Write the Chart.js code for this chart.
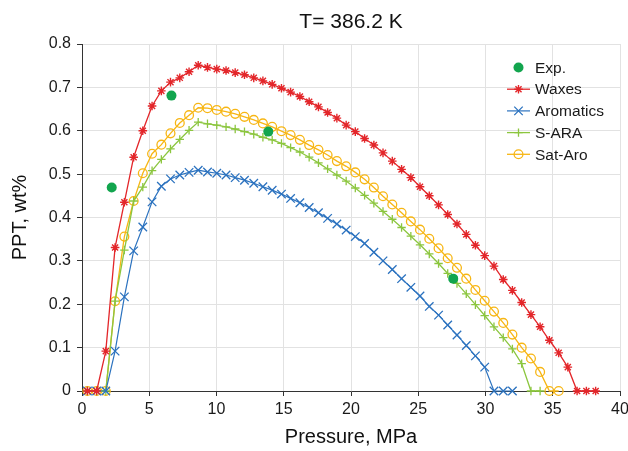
<!DOCTYPE html>
<html><head><meta charset="utf-8">
<script src="https://cdn.jsdelivr.net/npm/chart.js@4/dist/chart.umd.min.js"></script>
<style>html,body{margin:0;padding:0;background:#fff}#wrap{width:628px;height:451px;position:relative}</style>
</head><body><div id="wrap"><canvas id="c" width="628" height="451"></canvas></div>
<script>
// Pressure grid (MPa)
const pressure = [0.40,1.09,1.77,2.46,3.15,3.84,4.52,5.21,5.90,6.58,7.27,7.96,8.64,9.33,10.02,10.71,11.39,12.08,12.77,13.45,14.14,14.83,15.51,16.20,16.89,17.58,18.26,18.95,19.64,20.32,21.01,21.70,22.38,23.07,23.76,24.45,25.13,25.82,26.51,27.19,27.88,28.57,29.25,29.94,30.63,31.32,32.00,32.69,33.38,34.06,34.75,35.44,36.12,36.81,37.50,38.19];
// PPT, wt%
const waxes = [0,0,0.092,0.331,0.435,0.539,0.600,0.657,0.692,0.712,0.722,0.736,0.751,
  0.746,0.742,0.739,0.734,0.729,0.722,0.715,0.707,0.698,0.689,
  0.679,0.667,0.655,0.642,0.629,0.613,0.598,0.582,0.567,0.549,
  0.530,0.511,0.492,0.471,0.450,0.429,0.407,0.385,0.361,0.336,
  0.312,0.288,0.257,0.232,0.204,0.176,0.148,0.117,0.088,0.055,0,0,0];
const aromatics = [0,0,0,0.092,0.217,0.323,0.378,0.436,0.472,0.489,0.498,0.504,0.509,
  0.505,0.502,0.498,0.492,0.486,0.479,0.471,0.463,0.454,0.444,
  0.434,0.423,0.411,0.398,0.385,0.371,0.356,0.340,0.320,0.300,
  0.280,0.259,0.239,0.219,0.195,0.175,0.152,0.129,0.105,0.081,
  0.055,0,0,0,null,null,null,null,null,null,null,null,null];
const sara = [0,0,0,0.207,0.325,0.438,0.470,0.508,0.534,0.558,0.580,0.601,0.620,
  0.616,0.613,0.609,0.604,0.598,0.592,0.585,0.579,0.571,0.561,
  0.551,0.539,0.526,0.512,0.498,0.484,0.468,0.451,0.433,0.414,
  0.396,0.377,0.357,0.337,0.316,0.294,0.271,0.248,0.224,0.199,
  0.174,0.148,0.123,0.097,0.063,0,0,null,null,null,null,null,null];
const satAro = [0,0,0,0.207,0.356,0.438,0.502,0.547,0.568,0.594,0.618,0.636,0.653,
  0.652,0.648,0.644,0.639,0.632,0.625,0.617,0.609,0.599,0.590,
  0.579,0.567,0.556,0.544,0.530,0.518,0.504,0.488,0.469,0.449,
  0.430,0.411,0.391,0.372,0.351,0.329,0.306,0.284,0.259,0.233,
  0.208,0.183,0.157,0.130,0.100,0.075,0.044,0,0,null,null,null,null];
const expPressure = [2.21, 6.65, 13.85, 27.60];
const expPPT = [0.469, 0.681, 0.598, 0.259];
const seriesNames = ['Exp.', 'Waxes', 'Aromatics', 'S-ARA', 'Sat-Aro'];
const titleText = 'T= 386.2 K';
const xTitle = 'Pressure, MPa';
const yTitle = 'PPT, wt%';

function toXY(xs, ys){ const out=[]; for(let i=0;i<xs.length;i++){ if(ys[i]!==null && ys[i]!==undefined) out.push({x:xs[i], y:ys[i]}); } return out; }

const FONT = "'Liberation Sans', Arial, Helvetica, sans-serif";
Chart.defaults.font.family = FONT;
Chart.defaults.color = '#1a1a1a';

const datasets = [
  {label:seriesNames[0], data:toXY(expPressure, expPPT), showLine:false, pointStyle:'circle', pointRadius:5, pointBackgroundColor:'#12a54e', pointBorderColor:'#12a54e', pointBorderWidth:0, borderColor:'#12a54e', backgroundColor:'#12a54e', clip:false},
  {label:seriesNames[1], data:toXY(pressure, waxes), borderColor:'#e3262a', backgroundColor:'#e3262a', borderWidth:1.3, pointStyle:'star', pointRadius:4.3, pointBorderWidth:1.4, pointBorderColor:'#e3262a', pointBackgroundColor:'#e3262a', clip:false},
  {label:seriesNames[2], data:toXY(pressure, aromatics), borderColor:'#2b72bf', backgroundColor:'#2b72bf', borderWidth:1.2, pointStyle:'crossRot', pointRadius:6, pointBorderWidth:1.3, pointBorderColor:'#2b72bf', pointBackgroundColor:'#2b72bf', clip:false},
  {label:seriesNames[3], data:toXY(pressure, sara), borderColor:'#8cc63f', backgroundColor:'#8cc63f', borderWidth:1.3, pointStyle:'cross', pointRadius:4.2, pointBorderWidth:1.3, pointBorderColor:'#8cc63f', pointBackgroundColor:'#8cc63f', clip:false},
  {label:seriesNames[4], data:toXY(pressure, satAro), borderColor:'#f7b614', backgroundColor:'rgba(0,0,0,0)', borderWidth:1.3, pointStyle:'circle', pointRadius:4.4, pointBorderWidth:1.3, pointBorderColor:'#f7b614', pointBackgroundColor:'rgba(0,0,0,0)', clip:false}
];

function drawMarker(ctx, ds, x, y){
  const opts = {pointStyle: ds.pointStyle, rotation:0, radius: ds.pointRadius, borderWidth: ds.pointBorderWidth};
  ctx.save();
  ctx.strokeStyle = ds.pointBorderColor; ctx.fillStyle = ds.pointBackgroundColor; ctx.lineWidth = ds.pointBorderWidth;
  if (Chart.helpers && Chart.helpers.drawPoint) { Chart.helpers.drawPoint(ctx, opts, x, y); }
  else { ctx.beginPath(); ctx.arc(x,y,ds.pointRadius,0,Math.PI*2); ctx.fill(); ctx.stroke(); }
  ctx.restore();
}

const titleAndLegend = {
  id:'titleAndLegend',
  afterDraw(chart){
    const ctx = chart.ctx, a = chart.chartArea;
    ctx.save();
    ctx.font = '21px ' + FONT; ctx.fillStyle = '#111'; ctx.textAlign = 'center'; ctx.textBaseline = 'middle';
    ctx.fillText(titleText, (a.left + a.right)/2, 22);
    ctx.restore();
  },
  afterDatasetsDraw(chart){
    const ctx = chart.ctx, a = chart.chartArea;
    const lx0 = a.right - 113, lx1 = a.right - 90, mx = a.right - 101.5, tx = a.right - 85;
    let y = a.top + 23.5;
    const ds = chart.data.datasets;
    ctx.save();
    ctx.font = '15.5px ' + FONT; ctx.textBaseline = 'middle'; ctx.textAlign = 'left';
    for (let i=0;i<ds.length;i++){
      const d = ds[i];
      if (d.showLine !== false){
        ctx.strokeStyle = d.borderColor; ctx.lineWidth = d.borderWidth || 1.3;
        ctx.beginPath(); ctx.moveTo(lx0, y); ctx.lineTo(lx1, y); ctx.stroke();
      }
      drawMarker(ctx, d, mx, y);
      ctx.fillStyle = '#1a1a1a';
      ctx.fillText(d.label, tx, y+1);
      y += 21.7;
    }
    ctx.restore();
  }
};

new Chart(document.getElementById('c'), {
  type:'line',
  data:{datasets},
  options:{
    responsive:false, animation:false, devicePixelRatio:1,
    layout:{padding:{left:0,right:0,top:44,bottom:0}},
    plugins:{ legend:{display:false}, tooltip:{enabled:false}, title:{display:false} },
    scales:{
      x:{type:'linear', min:0, max:40,
        ticks:{stepSize:5, font:{size:16}, color:'#1a1a1a', padding:4},
        grid:{color:'#e2e2e2', tickColor:'#333', tickLength:5, lineWidth:1},
        border:{color:'#333', width:1},
        title:{display:true, text:xTitle, font:{size:20}, color:'#111', padding:{top:0,bottom:2}},
        afterFit(s){ s.height = 60; s.paddingRight = 8; s.paddingLeft = 0; }
      },
      y:{type:'linear', min:0, max:0.8,
        ticks:{stepSize:0.1, font:{size:16}, color:'#1a1a1a', padding:6},
        grid:{color:'#e2e2e2', tickColor:'#333', tickLength:5, lineWidth:1},
        border:{color:'#333', width:1},
        title:{display:true, text:yTitle, font:{size:20}, color:'#111', padding:{top:8,bottom:0}},
        afterFit(s){ s.width = 82; s.paddingTop = 0; s.paddingBottom = 0; }
      }
    }
  },
  plugins:[titleAndLegend]
});
</script></body></html>
